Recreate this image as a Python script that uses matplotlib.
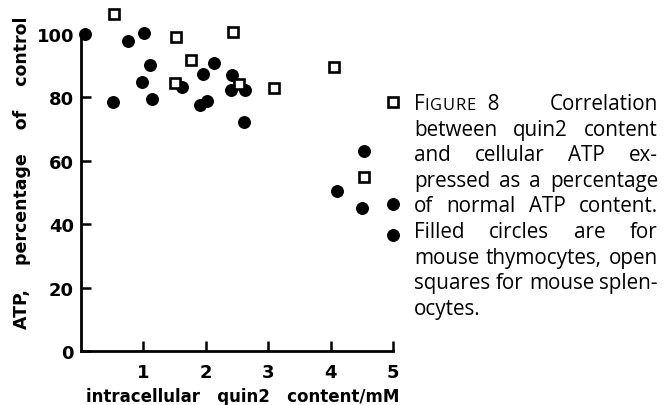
import numpy as np
import matplotlib
matplotlib.use("Agg")
import matplotlib.pyplot as plt

# filled circles: mouse thymocytes
thymo_x = [0.07, 0.52, 0.75, 1.01, 1.11, 0.98, 1.13, 1.62, 1.95, 2.13, 1.90, 2.02,
           2.42, 2.41, 2.63, 2.62, 4.53, 4.10, 4.50, 5.00, 5.00]
thymo_y = [100.0, 78.6, 97.7, 100.2, 90.2, 84.8, 79.5, 83.2, 87.4, 90.9, 77.6, 79.0,
           87.1, 82.4, 82.3, 72.1, 63.2, 50.6, 45.0, 46.4, 36.6]
# open squares: mouse splenocytes
spleno_x = [0.53, 1.52, 2.44, 1.76, 1.51, 2.53, 3.10, 4.05, 4.54, 5.00]
spleno_y = [106.3, 99.0, 100.7, 91.9, 84.5, 84.2, 82.9, 89.7, 54.8, 78.4]

xticks = [1, 2, 3, 4, 5]
yticks = [0, 20, 40, 60, 80, 100]
xlabel = "intracellular   quin2   content/mM"
ylabel = "ATP,    percentage    of    control"
caption = ["FIGURE  8|Correlation",
           "between quin2 content",
           "and cellular ATP ex-",
           "pressed as a percentage",
           "of normal ATP content.",
           "Filled circles are for",
           "mouse thymocytes, open",
           "squares for mouse splen-",
           "ocytes."]

W, H = 668, 406
fig = plt.figure(figsize=(W / 100, H / 100), dpi=100)
ax = fig.add_axes([81 / W, 1 - 352 / H, 312 / W, 317 / H])

ax.plot(thymo_x, thymo_y, 'o', color='black', ms=8.3, clip_on=False, zorder=3)
ax.plot(spleno_x, spleno_y, 's', mfc='white', mec='black', mew=1.9, ms=6.6,
        clip_on=False, zorder=4)

ax.set_xlim(0, 5)
ax.set_ylim(0, 100)
for s in ['top', 'right']:
    ax.spines[s].set_visible(False)
for s in ['left', 'bottom']:
    ax.spines[s].set_linewidth(2.0)
ax.set_xticks(xticks)
ax.set_yticks(yticks)
ax.tick_params(direction='in', length=7, width=1.8, labelsize=13)
ax.tick_params(axis='x', pad=9)
ax.tick_params(axis='y', pad=5)
for lab in ax.get_xticklabels() + ax.get_yticklabels():
    lab.set_fontweight('bold')

fig.text(22 / W, 1 - 173 / H, ylabel, rotation=90, ha='center', va='center',
         fontsize=12.5, fontweight='bold')
fig.text(243 / W, 1 - 397 / H, xlabel, ha='center', va='center',
         fontsize=12, fontweight='bold')

# justified caption on the right
fig.canvas.draw()
r = fig.canvas.get_renderer()
cfont = 'Open Sans'
left, right = 414, 658
base0, step = 110, 25.6

natural = 0
for line in caption[1:-1]:
    t = fig.text(0, 0, line, fontsize=10, family=cfont)
    natural = max(natural, t.get_window_extent(r).width)
    t.remove()
fs = 10 * (right - left) / natural


def make_word(word):
    if word.startswith('FIGURE'):
        parts = [('F', fs), ('I G U R E', fs * 0.8), (word[6:], fs)]
    else:
        parts = [(word, fs)]
    items = []
    for s, size in parts:
        if s.startswith('I G'):
            # small caps, slightly letter-spaced
            w = 0
            for ch in s.split():
                t = fig.text(0, 0, ch, fontsize=size, family=cfont, ha='left', va='baseline')
                cw = t.get_window_extent(r).width
                items.append((t, cw + 0.8))
            continue
        t = fig.text(0, 0, s, fontsize=size, family=cfont, ha='left', va='baseline')
        items.append((t, t.get_window_extent(r).width))
    return items


for i, line in enumerate(caption):
    words = line.split('|') if '|' in line else line.split()
    made = [make_word(w) for w in words]
    widths = [sum(w for _, w in m) for m in made]
    if i < len(caption) - 1 and len(words) > 1:
        gap = (right - left - sum(widths)) / (len(words) - 1)
    else:
        gap = fs * 1.39 * 0.26
    x = left
    y = 1 - (base0 + i * step) / H
    for m, wd in zip(made, widths):
        xx = x
        for t, w in m:
            t.set_position((xx / W, y))
            xx += w
        x += wd + gap

fig.savefig('out.png', dpi=100)
